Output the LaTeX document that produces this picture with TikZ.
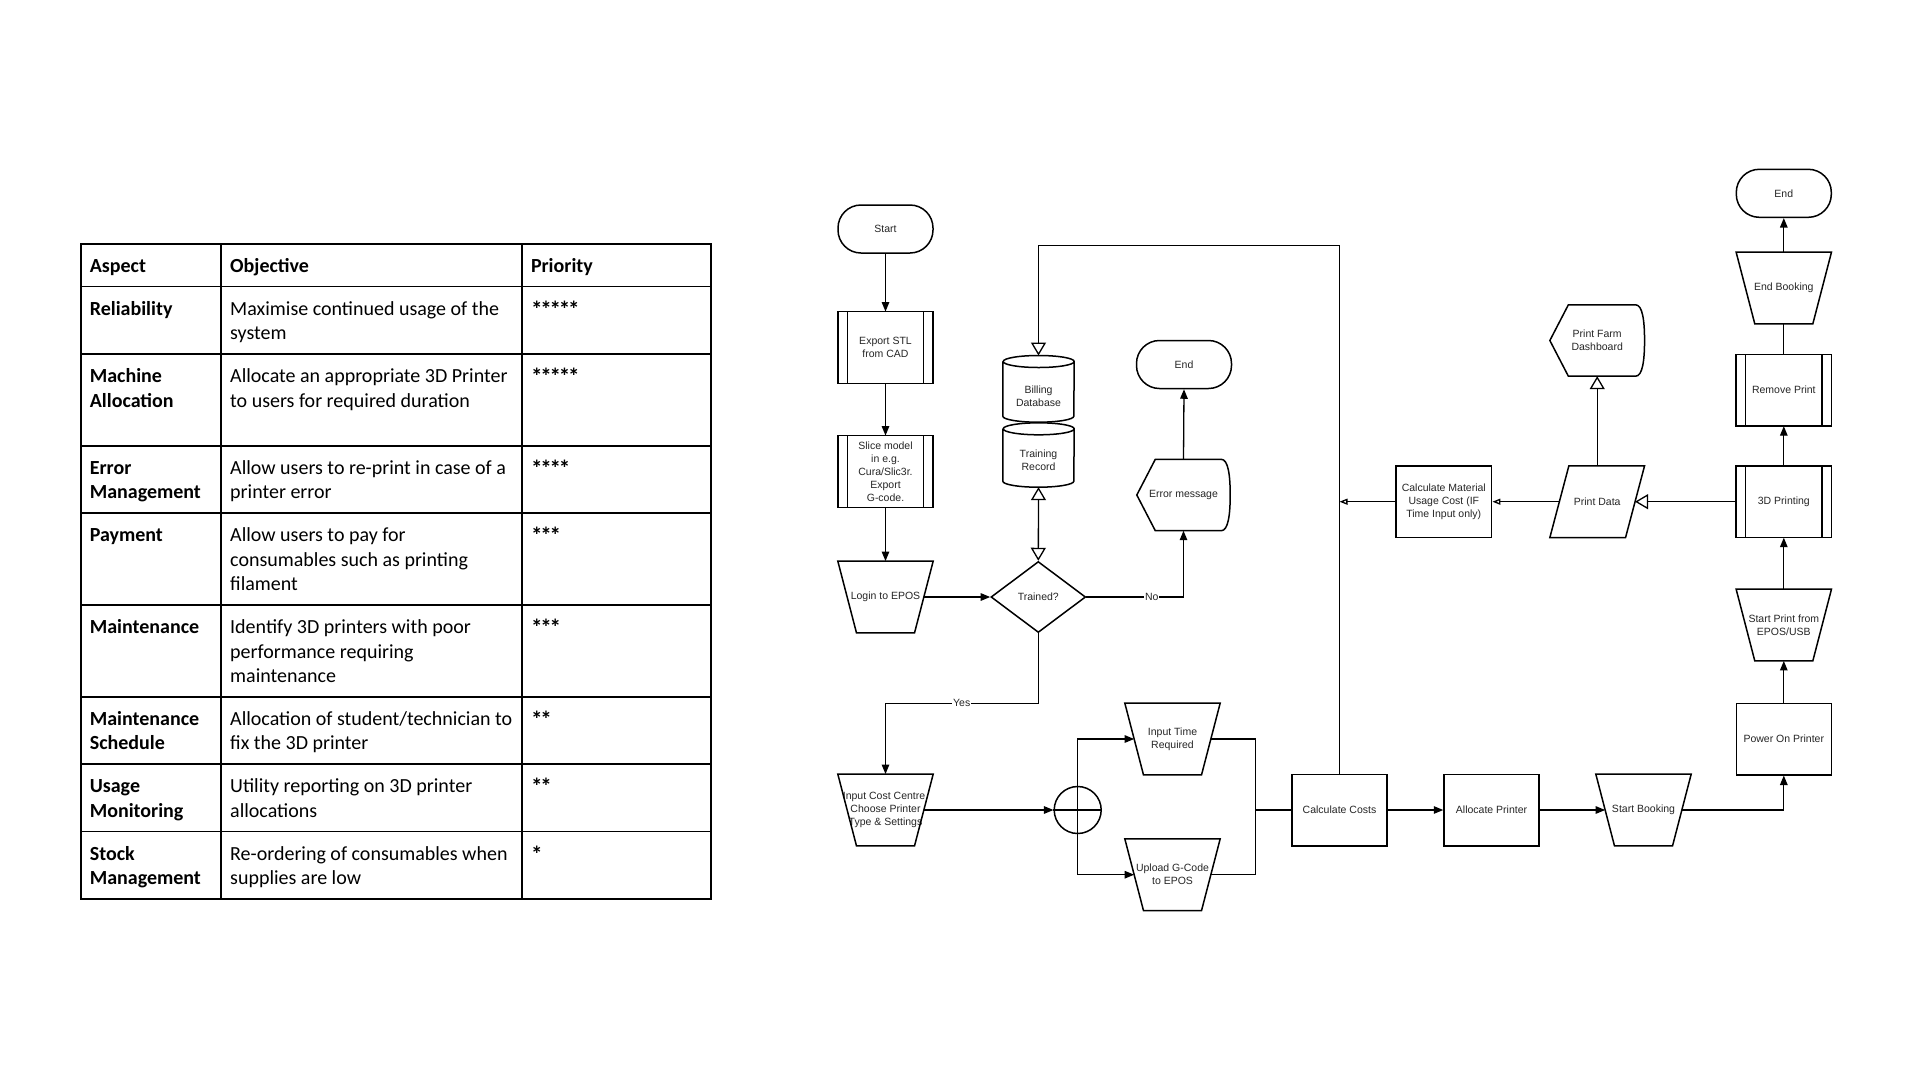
\documentclass[tikz,border=0pt]{standalone}
\usepackage{fontspec}
\setmainfont{Liberation Sans}
\newfontfamily\tabfont{Carlito}
\newfontfamily\flowfont{Liberation Sans}
\usetikzlibrary{arrows.meta,shapes.geometric,calc}
\newcommand\drawmanop[1]{\draw[shp] (#1.north west) -- (#1.north east) -- ([xshift=-18.7pt]#1.south east) -- ([xshift=18.7pt]#1.south west) -- cycle;}
\newcommand\drawpredef[1]{\draw[shp] (#1.north west) rectangle (#1.south east);
  \draw[shp] ([xshift=9.5pt]#1.north west) -- ([xshift=9.5pt]#1.south west);
  \draw[shp] ([xshift=-9.5pt]#1.north east) -- ([xshift=-9.5pt]#1.south east);}
\newcommand\drawdisplay[1]{\draw[shp] (#1.west) -- ([xshift=18.5pt]#1.north west) -- ([xshift=-9pt]#1.north east)
  .. controls ([xshift=-2pt]#1.north east) and ([yshift=-16pt]#1.north east) .. (#1.east)
  .. controls ([yshift=16pt]#1.south east) and ([xshift=-2pt]#1.south east) .. ([xshift=-9pt]#1.south east)
  -- ([xshift=18.5pt]#1.south west) -- cycle;}
\newcommand\drawcyl[1]{\draw[shp] ([yshift=-6pt]#1.north west) -- ([yshift=6pt]#1.south west)
  arc[start angle=180,end angle=360,x radius=35.5pt,y radius=6pt] -- ([yshift=-6pt]#1.north east)
  arc[start angle=0,end angle=180,x radius=35.5pt,y radius=6pt]
  arc[start angle=180,end angle=360,x radius=35.5pt,y radius=6pt];}
\newcommand\stars[1]{\raisebox{-2pt}{\fontsize{23}{24.5}\selectfont\bfseries #1}}
\newcommand\sk{\kern-2.2pt}
\begin{document}
\begin{tikzpicture}[x=1pt,y=-1pt,
  tline/.style={line width=1.8pt},
  cell/.style={font=\tabfont\fontsize{20}{24.5}\selectfont, align=left, inner sep=0pt, anchor=north west},
  hcell/.style={cell, font=\tabfont\bfseries\fontsize{20}{24.5}\selectfont},
  shp/.style={line width=1.5pt, line join=miter},
  con/.style={line width=1.3pt},
  farr/.style={con, -{Triangle[length=9.5pt,width=7.5pt]}},
  oarr/.style={con, -{Triangle[open,fill=white,length=13pt,width=15pt]}},
  sarr/.style={con, -{Triangle[open,fill=white,length=8pt,width=6pt]}},
  ftxt/.style={font=\flowfont\fontsize{10.5}{13}\selectfont, align=center, inner sep=0pt, text=black!85},
  blk/.style={ftxt, minimum width=95pt, minimum height=71.5pt},
  term/.style={ftxt, draw, shp, rounded corners=23pt, minimum width=95pt, minimum height=48pt},
  box/.style={blk, draw, shp},
  lbl/.style={ftxt, fill=white, inner sep=0.8pt}
]
\useasboundingbox[fill=white] (0,0) rectangle (1920,1080);

% ---------------- table ----------------
\draw[tline] (80.6,243.7) rectangle (711,898.8);
\foreach \yy in {286.5,353.9,445.7,513.1,604.9,696.7,764.1,831.4}
  \draw[tline] (80.6,\yy) -- (711,\yy);
\draw[tline] (221,243.7) -- (221,898.8);
\draw[tline] (521.8,243.7) -- (521.8,898.8);

\node[hcell] (h1) at (89.6,255.05) {\strut Aspect};
\node[hcell] (h2) at (230,255.05) {\strut Objective};
\node[hcell] (h3) at (530.8,255.05) {\strut Priority};

\node[hcell] (a1) at (89.6,297.85) {\strut Reliability};
\node[cell] (o1) at (230,297.85) {\strut Maximise continued usage of the\\system};
\node[cell] (p1) at (530.8,297.85) {\strut\stars{*\sk*\sk*\sk*\sk*}};

\node[hcell] (a2) at (89.6,365.25) {\strut Machine\\Allocation};
\node[cell] (o2) at (230,365.25) {\strut Allocate an appropriate 3D Printer\\to users for required duration};
\node[cell] (p2) at (530.8,365.25) {\strut\stars{*\sk*\sk*\sk*\sk*}};

\node[hcell] (a3) at (89.6,457.05) {\strut Error\\Management};
\node[cell] (o3) at (230,457.05) {\strut Allow users to re-print in case of a\\printer error};
\node[cell] (p3) at (530.8,457.05) {\strut\stars{*\sk*\sk*\sk*}};

\node[hcell] (a4) at (89.6,524.45) {\strut Payment};
\node[cell] (o4) at (230,524.45) {\strut Allow users to pay for\\consumables such as printing\\filament};
\node[cell] (p4) at (530.8,524.45) {\strut\stars{*\sk*\sk*}};

\node[hcell] (a5) at (89.6,616.25) {\strut Maintenance};
\node[cell] (o5) at (230,616.25) {\strut Identify 3D printers with poor\\performance requiring\\maintenance};
\node[cell] (p5) at (530.8,616.25) {\strut\stars{*\sk*\sk*}};

\node[hcell] (a6) at (89.6,708.05) {\strut Maintenance\\Schedule};
\node[cell] (o6) at (230,708.05) {\strut Allocation of student/technician to\\fix the 3D printer};
\node[cell] (p6) at (530.8,708.05) {\strut\stars{*\sk*}};

\node[hcell] (a7) at (89.6,775.45) {\strut Usage\\Monitoring};
\node[cell] (o7) at (230,775.45) {\strut Utility reporting on 3D printer\\allocations};
\node[cell] (p7) at (530.8,775.45) {\strut\stars{*\sk*}};

\node[hcell] (a8) at (89.6,842.75) {\strut Stock\\Management};
\node[cell] (o8) at (230,842.75) {\strut Re-ordering of consumables when\\supplies are low};
\node[cell] (p8) at (530.8,842.75) {\strut\stars{*}};

% ---------------- flowchart nodes ----------------
\node[term] (start) at (885.5,229) {Start};
\node[blk] (export) at (885.5,347.5) {Export STL\\from CAD};
\node[blk] (slice) at (885.5,471.5) {Slice model\\in e.g.\\Cura/Slic3r.\\Export\\G-code.};
\node[blk] (login) at (885.5,597) {Login to EPOS};
\node[ftxt, draw, shp, diamond, minimum width=94.7pt, minimum height=71pt] (trained) at (1038.3,597) {Trained?};
\node[blk, minimum width=93pt, minimum height=71pt] (errmsg) at (1183.5,495) {Error message};
\node[term] (end1) at (1184,364.5) {End};
\node[blk, minimum width=71pt, minimum height=66.3pt] (billing) at (1038.5,388.85) {};
\node[ftxt] (billingt) at (1038.5,396.2) {Billing\\Database};
\node[blk, minimum width=71pt, minimum height=64pt] (training) at (1038.5,455) {};
\node[ftxt] (trainingt) at (1038.5,460.5) {Training\\Record};
\node[blk] (costc) at (885.5,810) {Input Cost Centre,\\Choose Printer\\Type \& Settings};
\node[draw, shp, circle, minimum size=47pt, inner sep=0pt] (merge) at (1077.7,810) {};
\node[blk] (itime) at (1172.5,739) {Input Time\\Required};
\node[blk] (upload) at (1172.5,874.7) {Upload G-Code\\to EPOS};
\node[box] (calcc) at (1339.5,810) {Calculate Costs};
\node[box] (alloc) at (1491.5,810) {Allocate Printer};
\node[blk] (sbook) at (1643.5,810) {Start Booking};
\node[box] (poweron) at (1783.8,739) {Power On Printer};
\node[blk] (sprint) at (1783.8,625) {Start Print from\\EPOS/USB};
\node[blk] (printing) at (1783.8,501.7) {3D Printing};
\node[blk] (remove) at (1783.8,390.2) {Remove Print};
\node[blk] (endbook) at (1783.8,288) {End Booking};
\node[term] (end2) at (1783.8,193.3) {End};
\node[blk, minimum width=94.3pt, minimum height=71.3pt] (pdata) at (1597.2,501.7) {Print Data};
\node[blk, minimum width=94.3pt, minimum height=71pt] (dash) at (1597.2,340.5) {Print Farm\\Dashboard};
\node[box, minimum width=95.7pt, minimum height=71.3pt] (calcm) at (1443.8,501.7) {Calculate Material\\Usage Cost (IF\\Time Input only)};

% outlines
\drawpredef{export}
\drawpredef{slice}
\drawmanop{login}
\drawdisplay{errmsg}
\drawcyl{billing}
\drawcyl{training}
\drawmanop{costc}
\drawmanop{itime}
\drawmanop{upload}
\drawmanop{sbook}
\drawmanop{sprint}
\drawpredef{printing}
\drawpredef{remove}
\drawmanop{endbook}
\draw[shp] ([xshift=19pt]pdata.north west) -- (pdata.north east) -- ([xshift=-19pt]pdata.south east) -- (pdata.south west) -- cycle;
\drawdisplay{dash}

% ---------------- connectors ----------------
\draw[farr] (start) -- (export);
\draw[farr] (export) -- (slice);
\draw[farr] (slice) -- (login);
\draw[farr] ([xshift=-9.35pt]login.east) -- (trained.west);
\draw[farr] (trained.east) -| (errmsg.south);
\node[lbl] (nolbl) at (1151.7,597) {No};
\draw[farr] (errmsg.north) -- (end1.south);
\coordinate (yesbend) at (1038.3,703.3);
\draw[farr] (trained.south) -- (yesbend) -| (costc.north);
\node[lbl] (yeslbl) at (961.7,703.3) {Yes};
\draw[con, {Triangle[open,fill=white,length=13pt,width=15pt]}-{Triangle[open,fill=white,length=13pt,width=15pt]}] (training.south) -- (trained.north);
\coordinate (topln) at (1038.5,245.7);
\draw[oarr] (calcc.north) |- (topln) -- (billing.north);
\draw[farr] ([xshift=-9.35pt]costc.east) -- (merge.west);
\draw[con] (merge.west) -- (merge.east);
\draw[con] (merge.north) -- (merge.south);
\draw[farr] (merge.north) |- ([xshift=9.35pt]itime.west);
\draw[farr] (merge.south) |- ([xshift=9.35pt]upload.west);
\coordinate (join) at (1255.7,810);
\draw[con] ([xshift=-9.35pt]itime.east) -| (join);
\draw[con] ([xshift=-9.35pt]upload.east) -| (join);
\draw[con] (join) -- (calcc.west);
\draw[farr] (calcc.east) -- (alloc.west);
\draw[farr] (alloc.east) -- ([xshift=9.35pt]sbook.west);
\draw[farr] ([xshift=-9.35pt]sbook.east) -| (poweron.south);
\draw[farr] (poweron.north) -- (sprint.south);
\draw[farr] (sprint.north) -- (printing.south);
\draw[farr] (printing.north) -- (remove.south);
\draw[con] (remove.north) -- (endbook.south);
\draw[farr] (endbook.north) -- (end2.south);
\draw[oarr] (printing.west) -- ([xshift=-9.5pt]pdata.east);
\draw[oarr] (pdata.north) -- (dash.south);
\draw[sarr] ([xshift=9.5pt]pdata.west) -- (calcm.east);
\draw[sarr] (calcm.west) -- (calcm.west -| calcc.north);
\end{tikzpicture}
\end{document}
